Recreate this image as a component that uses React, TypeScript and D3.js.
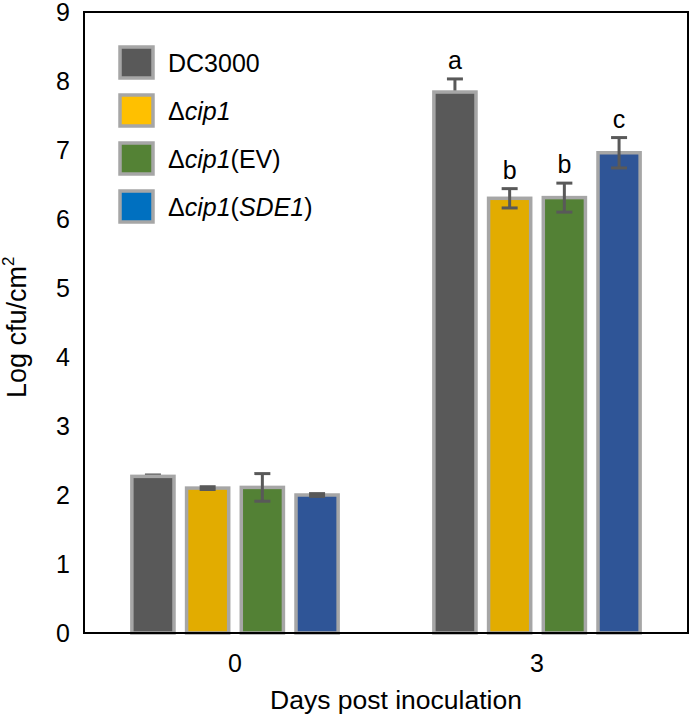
import React from "react";
import * as d3 from "d3";

const days = ["0", "3"];
const series = ["DC3000", "cip1", "cip1EV", "cip1SDE1"];
const day0Values = [2.27, 2.1, 2.11, 2.0];
const day3Values = [7.84, 6.3, 6.31, 6.96];
const day0Errors = [0.02, 0.02, 0.2, 0.02];
const day3Errors = [0.19, 0.14, 0.21, 0.22];
const day3Letters = ["a", "b", "b", "c"];
const barColors = ["#595959", "#E2AC00", "#538135", "#2F5597"];
const legendColors = ["#595959", "#FFC000", "#548235", "#0070C0"];
const yTicks = [0, 1, 2, 3, 4, 5, 6, 7, 8, 9];

const W = 692;
const H = 719;
const M = { left: 84, right: 4, top: 12, bottom: 86 };
const FONT = "'Liberation Sans', Arial, Helvetica, sans-serif";

function STxt({ x, y, children, anchor = "middle", size = 25, rotate = 0 }: any) {
  return (
    <text
      transform={`translate(${x},${y}) rotate(${rotate})`}
      textAnchor={anchor}
      fontSize={size}
      fontFamily={FONT}
      fill="#000"
    >
      {children}
    </text>
  );
}

export default function App() {
  const x0 = d3.scaleBand<string>().domain(days).range([M.left, W - M.right]).padding(0);
  const x1 = d3
    .scaleBand<string>()
    .domain(series)
    .range([0, x0.bandwidth()])
    .paddingInner(0.23)
    .paddingOuter(0.875);
  const y = d3.scaleLinear().domain([0, 9]).range([H - M.bottom, M.top]);

  const groups = [
    { day: "0", values: day0Values, errors: day0Errors, letters: ["", "", "", ""] },
    { day: "3", values: day3Values, errors: day3Errors, letters: day3Letters },
  ];

  const legendLabels = [
    <tspan>DC3000</tspan>,
    <>
      <tspan>Δ</tspan>
      <tspan fontStyle="italic">cip1</tspan>
    </>,
    <>
      <tspan>Δ</tspan>
      <tspan fontStyle="italic">cip1</tspan>
      <tspan>(EV)</tspan>
    </>,
    <>
      <tspan>Δ</tspan>
      <tspan fontStyle="italic">cip1</tspan>
      <tspan>(</tspan>
      <tspan fontStyle="italic">SDE1</tspan>
      <tspan>)</tspan>
    </>,
  ];

  const errBar = (cx: number, v: number, e: number, key: string) => (
    <g key={key} stroke="#595959" strokeWidth={3}>
      <line x1={cx} x2={cx} y1={y(v + e)} y2={y(v - e)} />
      <line x1={cx - 8} x2={cx + 8} y1={y(v + e)} y2={y(v + e)} />
      <line x1={cx - 8} x2={cx + 8} y1={y(v - e)} y2={y(v - e)} />
    </g>
  );

  return (
    <svg width={W} height={H} style={{ position: "absolute", left: 0, top: 0, background: "#fff" }}>
      {groups.map((g) => {
        const cx = (x0(g.day) as number) + (x1(series[0]) as number) + x1.bandwidth() / 2;
        return errBar(cx, g.values[0], g.errors[0], "eb" + g.day);
      })}
      {groups.map((g) =>
        series.map((s, i) => {
          const bx = (x0(g.day) as number) + (x1(s) as number);
          return (
            <rect
              key={g.day + s}
              x={bx}
              y={y(g.values[i])}
              width={x1.bandwidth()}
              height={y(0) - y(g.values[i])}
              fill={barColors[i]}
              stroke="#A6A6A6"
              strokeWidth={3.5}
            />
          );
        })
      )}
      {groups.map((g) =>
        series.map((s, i) => {
          if (i === 0) return null;
          const cx = (x0(g.day) as number) + (x1(s) as number) + x1.bandwidth() / 2;
          return errBar(cx, g.values[i], g.errors[i], "e" + g.day + s);
        })
      )}
      {groups.map((g) =>
        series.map((s, i) => {
          if (!g.letters[i]) return null;
          const cx = (x0(g.day) as number) + (x1(s) as number) + x1.bandwidth() / 2;
          return (
            <STxt key={"l" + g.day + s} x={cx} y={y(g.values[i] + g.errors[i]) - 10}>
              {g.letters[i]}
            </STxt>
          );
        })
      )}
      <rect
        x={M.left}
        y={M.top}
        width={W - M.right - M.left}
        height={y(0) - M.top}
        fill="none"
        stroke="#000"
        strokeWidth={2}
      />
      {yTicks.map((t) => (
        <STxt key={"yt" + t} x={70} y={y(t) + 9} anchor="end">
          {t}
        </STxt>
      ))}
      {days.map((d) => (
        <STxt key={"xt" + d} x={(x0(d) as number) + x0.bandwidth() / 2} y={672}>
          {d}
        </STxt>
      ))}
      <STxt x={(M.left + W - M.right) / 2 + 10} y={709} size={26.5}>
        Days post inoculation
      </STxt>
      <STxt x={26} y={398} rotate={-90} anchor="start" size={27}>
        <tspan>Log cfu/cm</tspan>
        <tspan fontSize={17} dy={-12}>2</tspan>
      </STxt>
      {series.map((s, i) => (
        <g key={"lg" + s}>
          <rect
            x={120}
            y={47 + i * 48}
            width={33}
            height={31}
            fill={legendColors[i]}
            stroke="#A6A6A6"
            strokeWidth={3.5}
          />
          <STxt x={168} y={72 + i * 48} anchor="start">
            {legendLabels[i]}
          </STxt>
        </g>
      ))}
    </svg>
  );
}
